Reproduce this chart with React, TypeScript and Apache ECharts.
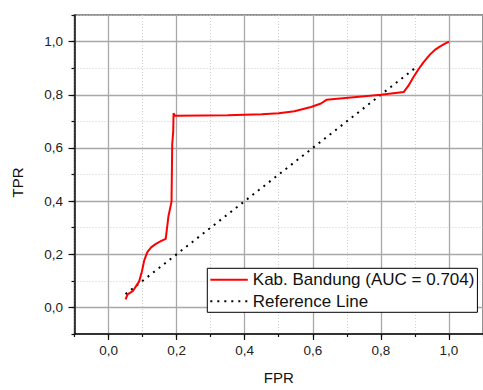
import React, { useEffect, useRef } from "react";
import * as echarts from "echarts";

const fpr = [0.05, 0.056, 0.071, 0.09, 0.098, 0.105, 0.114, 0.125, 0.139, 0.155, 0.168, 0.176, 0.185, 0.186, 0.187, 0.19, 0.191, 0.195, 0.2, 0.35, 0.45, 0.5, 0.546, 0.595, 0.624, 0.64, 0.8, 0.867, 0.881, 0.895, 0.91, 0.925, 0.944, 0.96, 0.973, 0.987, 1.0];
const tpr = [0.03, 0.049, 0.061, 0.098, 0.135, 0.178, 0.208, 0.226, 0.239, 0.25, 0.258, 0.343, 0.398, 0.5, 0.613, 0.662, 0.73, 0.721, 0.721, 0.723, 0.727, 0.73, 0.738, 0.754, 0.767, 0.781, 0.8, 0.81, 0.834, 0.865, 0.895, 0.922, 0.951, 0.97, 0.981, 0.991, 1.0];
const refFpr = [0.05, 0.9];
const refTpr = [0.05, 0.9];
const majorTicks = [0, 0.2, 0.4, 0.6, 0.8, 1.0];
const seriesNames = ["Kab. Bandung (AUC = 0.704)", "Reference Line"];

const fmt = (v: number) => v.toFixed(1).replace(".", ",");
const FONT = "'Liberation Sans', Arial, sans-serif";

export default function App() {
  const ref = useRef<HTMLDivElement>(null);
  useEffect(() => {
    if (!ref.current) return;
    const chart = echarts.init(ref.current, null, { renderer: "svg" });
    const minorAxis = (pos: string) => ({
      type: "value",
      min: -0.1,
      max: 1.1,
      interval: 0.1,
      position: pos,
      axisLine: { show: true, onZero: false, lineStyle: { color: "#111", width: 1.5 } },
      axisTick: { show: true, length: 3, lineStyle: { color: "#111", width: 1.2 } },
      axisLabel: { show: false },
      splitLine: { show: true, lineStyle: { color: "#cfcfcf", width: 1, type: [1, 2] } },
    });
    const majorAxis = (pos: string, margin: number) => ({
      type: "value",
      min: -0.1,
      max: 1.1,
      position: pos,
      axisLine: { show: false, onZero: false },
      axisTick: { show: true, customValues: majorTicks, length: 6, lineStyle: { color: "#111", width: 1.2 } },
      axisLabel: {
        show: true,
        customValues: majorTicks,
        formatter: (v: number) => fmt(v),
        margin,
        fontSize: 13.5,
        fontFamily: FONT,
        color: "#222",
      },
      splitLine: { show: true, lineStyle: { color: "#a8a8a8", width: 1.3 } },
    });
    chart.setOption({
      animation: false,
      backgroundColor: "#fff",
      grid: {
        left: 74.5,
        top: 15,
        width: 412.5,
        height: 325.5,
        show: true,
        borderColor: "#707070",
        borderWidth: 1.5,
        backgroundColor: "transparent",
      },
      xAxis: [
        minorAxis("bottom"),
        {
          ...majorAxis("bottom", 9),
          name: "FPR",
          nameLocation: "middle",
          nameGap: 36,
          nameTextStyle: { fontSize: 15, fontFamily: FONT, color: "#111" },
        },
      ],
      yAxis: [
        minorAxis("left"),
        {
          ...majorAxis("left", 11.5),
          name: "TPR",
          nameLocation: "middle",
          nameGap: 50,
          nameRotate: 90,
          nameTextStyle: { fontSize: 15, fontFamily: FONT, color: "#111", padding: [0, 16, 0, 0] },
        },
      ],
      legend: {
        orient: "vertical",
        left: 207.3,
        top: 268.3,
        data: seriesNames,
        backgroundColor: "#fff",
        borderColor: "#000",
        borderWidth: 1,
        borderRadius: 0,
        padding: [3, 3, 2.5, 2],
        itemGap: 4.5,
        itemWidth: 37.5,
        itemHeight: 14,
        itemStyle: { opacity: 0 },
        textStyle: { fontSize: 17, fontFamily: FONT, color: "#111" },
      },
      series: [
        {
          name: seriesNames[0],
          type: "line",
          xAxisIndex: 0,
          yAxisIndex: 0,
          symbol: "none",
          showSymbol: false,
          lineStyle: { color: "#ff0000", width: 2 },
          itemStyle: { color: "#ff0000" },
          data: fpr.map((x, i) => [x, tpr[i]]),
          z: 3,
        },
        {
          name: seriesNames[1],
          type: "line",
          xAxisIndex: 0,
          yAxisIndex: 0,
          symbol: "none",
          showSymbol: false,
          lineStyle: { color: "#000", width: 2, type: [2, 5] },
          itemStyle: { color: "#000" },
          data: refFpr.map((x, i) => [x, refTpr[i]]),
          z: 2,
        },
      ],
    });
    return () => chart.dispose();
  }, []);
  return (
    <div
      ref={ref}
      style={{ position: "fixed", left: 0, top: 0, width: 483, height: 390, background: "#fff" }}
    />
  );
}
